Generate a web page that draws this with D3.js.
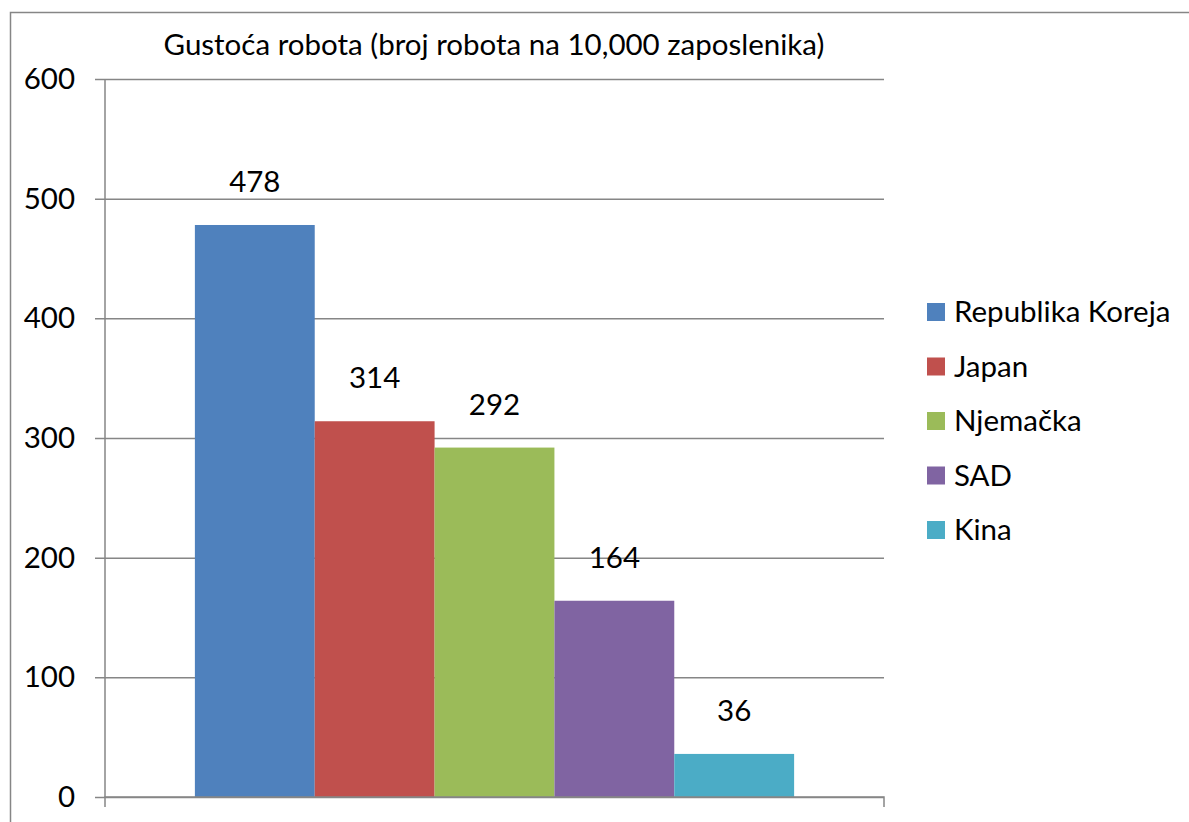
<!DOCTYPE html>
<html>
<head>
<meta charset="utf-8">
<script src="https://cdn.jsdelivr.net/npm/d3@7"></script>
<style>
  body { margin: 0; background: #fff; }
  text { font-family: Lato, "Open Sans", sans-serif; fill: #000; }
</style>
</head>
<body>
<div id="chart"></div>
<script>
var countries = ["Republika Koreja", "Japan", "Njemačka", "SAD", "Kina"];
var density = [478, 314, 292, 164, 36];
var colors = ["#4F81BD", "#C0504D", "#9BBB59", "#8064A2", "#4BACC6"];
var yTicks = [0, 100, 200, 300, 400, 500, 600];
var title = "Gustoća robota (broj robota na 10,000 zaposlenika)";

var width = 1189,
    height = 822,
    plotLeft = 105, plotRight = 884,   // plot area
    plotTop = 79, plotBottom = 797,
    fontSize = 29.5,
    axisColor = "#868686";

var svg = d3.select("#chart").append("svg")
    .attr("width", width)
    .attr("height", height);

// outer frame (only top and left edges visible)
svg.append("path")
    .attr("d", "M10.5," + height + "V12.5H" + width)
    .attr("fill", "none")
    .attr("stroke", axisColor)
    .attr("stroke-width", 1.5);

var y = d3.scaleLinear().domain([0, 600]).range([plotBottom, plotTop]);

// gap width 150% -> outer gap 0.75 bar on each side
var barW = (plotRight - plotLeft) / (countries.length + 1.5);
var x = d3.scaleBand()
    .domain(countries)
    .range([plotLeft + barW * 0.75, plotRight - barW * 0.75])
    .padding(0);

// gridlines + y axis
var yAxis = d3.axisLeft(y)
    .tickValues(yTicks)
    .tickSize(plotRight - 95);
var gy = svg.append("g")
    .attr("transform", "translate(" + plotRight + ",0)")
    .call(yAxis);
gy.select(".domain").remove();
gy.selectAll(".tick line").attr("stroke", axisColor).attr("stroke-width", 1.5);
gy.selectAll(".tick text")
    .attr("x", 75 - plotRight)
    .attr("font-size", fontSize)
    .style("font-family", "Lato, sans-serif")
    .attr("fill", "#000");

// vertical axis line
svg.append("line")
    .attr("x1", plotLeft).attr("x2", plotLeft)
    .attr("y1", plotTop).attr("y2", plotBottom)
    .attr("stroke", axisColor).attr("stroke-width", 1.5);

// bars
svg.append("g").selectAll("rect")
    .data(countries)
  .enter().append("rect")
    .attr("x", function(d){ return x(d); })
    .attr("y", function(d,i){ return y(density[i]); })
    .attr("width", x.bandwidth())
    .attr("height", function(d,i){ return plotBottom - y(density[i]); })
    .attr("fill", function(d,i){ return colors[i]; });

// value labels
svg.append("g").selectAll("text")
    .data(countries)
  .enter().append("text")
    .attr("x", function(d){ return x(d) + x.bandwidth() / 2; })
    .attr("y", function(d,i){ return y(density[i]) - 33; })
    .attr("text-anchor", "middle")
    .attr("font-size", fontSize)
    .text(function(d,i){ return density[i]; });

// x axis (category axis with end ticks)
svg.append("path")
    .attr("d", "M" + plotLeft + "," + (plotBottom + 10) + "V" + plotBottom + "H" + plotRight + "V" + (plotBottom + 10))
    .attr("fill", "none")
    .attr("stroke", axisColor).attr("stroke-width", 1.5);

// title
svg.append("text")
    .attr("x", 494)
    .attr("y", 55)
    .attr("text-anchor", "middle")
    .attr("font-size", fontSize)
    .text(title);

// legend
var legend = svg.append("g").selectAll("g")
    .data(countries)
  .enter().append("g")
    .attr("transform", function(d,i){ return "translate(927," + (312 + i * 54.5) + ")"; });

legend.append("rect")
    .attr("y", -9)
    .attr("width", 18)
    .attr("height", 18)
    .attr("fill", function(d,i){ return colors[i]; });

legend.append("text")
    .attr("x", 27)
    .attr("dy", "0.35em")
    .attr("font-size", fontSize)
    .text(function(d){ return d; });
</script>
</body>
</html>
